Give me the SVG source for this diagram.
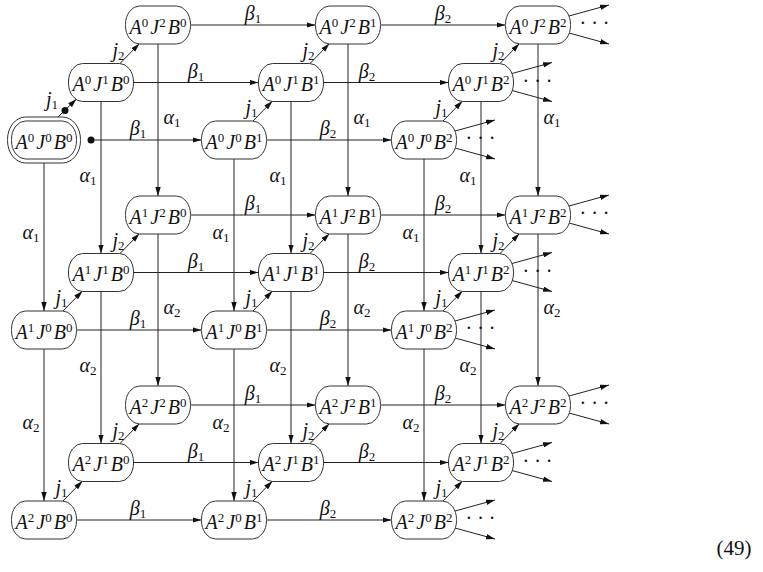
<svg xmlns="http://www.w3.org/2000/svg" width="763" height="572" viewBox="0 0 763 572">
<style>
.nd{fill:#fff;stroke:#333;stroke-width:1}
.e{stroke:#222;stroke-width:1;fill:none;marker-end:url(#ah)}
.n{font-family:"Liberation Serif",serif;font-style:italic;font-size:20px;fill:#111;text-anchor:middle}
.s{font-style:normal;font-size:13px}
.l{font-family:"Liberation Serif",serif;font-style:italic;font-size:20px;fill:#111;text-anchor:middle}
.ls{font-style:normal;font-size:13px}
.dots{font-family:"Liberation Serif",serif;font-size:20px;fill:#111;text-anchor:middle}
</style>
<defs>
<marker id="ah" viewBox="0 0 10 6" refX="10" refY="3" markerWidth="9" markerHeight="5.5" orient="auto" markerUnits="userSpaceOnUse"><path d="M0,0 L10,3 L0,6 z" fill="#111"/></marker>
</defs>
<rect width="763" height="572" fill="#fff"/>
<g id="connectors">
<!-- beta edges -->
<line class="e" x1="91" y1="140" x2="201.5" y2="140"/>
<line class="e" x1="266.5" y1="140" x2="391.5" y2="140"/>
<line class="e" x1="133.5" y1="82.5" x2="258.5" y2="82.5"/>
<line class="e" x1="323.5" y1="82.5" x2="448.5" y2="82.5"/>
<line class="e" x1="190.5" y1="25" x2="315.5" y2="25"/>
<line class="e" x1="380.5" y1="25" x2="505.5" y2="25"/>
<line class="e" x1="76.5" y1="330" x2="201.5" y2="330"/>
<line class="e" x1="266.5" y1="330" x2="391.5" y2="330"/>
<line class="e" x1="133.5" y1="272.5" x2="258.5" y2="272.5"/>
<line class="e" x1="323.5" y1="272.5" x2="448.5" y2="272.5"/>
<line class="e" x1="190.5" y1="215" x2="315.5" y2="215"/>
<line class="e" x1="380.5" y1="215" x2="505.5" y2="215"/>
<line class="e" x1="76.5" y1="520" x2="201.5" y2="520"/>
<line class="e" x1="266.5" y1="520" x2="391.5" y2="520"/>
<line class="e" x1="133.5" y1="462.5" x2="258.5" y2="462.5"/>
<line class="e" x1="323.5" y1="462.5" x2="448.5" y2="462.5"/>
<line class="e" x1="190.5" y1="405" x2="315.5" y2="405"/>
<line class="e" x1="380.5" y1="405" x2="505.5" y2="405"/>
<!-- alpha edges -->
<line class="e" x1="44" y1="163" x2="44" y2="311"/>
<line class="e" x1="44" y1="349" x2="44" y2="501"/>
<line class="e" x1="234" y1="159" x2="234" y2="311"/>
<line class="e" x1="234" y1="349" x2="234" y2="501"/>
<line class="e" x1="424" y1="159" x2="424" y2="311"/>
<line class="e" x1="424" y1="349" x2="424" y2="501"/>
<line class="e" x1="101" y1="101.5" x2="101" y2="253.5"/>
<line class="e" x1="101" y1="291.5" x2="101" y2="443.5"/>
<line class="e" x1="291" y1="101.5" x2="291" y2="253.5"/>
<line class="e" x1="291" y1="291.5" x2="291" y2="443.5"/>
<line class="e" x1="481" y1="101.5" x2="481" y2="253.5"/>
<line class="e" x1="481" y1="291.5" x2="481" y2="443.5"/>
<line class="e" x1="158" y1="44" x2="158" y2="196"/>
<line class="e" x1="158" y1="234" x2="158" y2="386"/>
<line class="e" x1="348" y1="44" x2="348" y2="196"/>
<line class="e" x1="348" y1="234" x2="348" y2="386"/>
<line class="e" x1="538" y1="44" x2="538" y2="196"/>
<line class="e" x1="538" y1="234" x2="538" y2="386"/>
<!-- j edges -->
<line class="e" x1="58" y1="117" x2="76.5" y2="99"/>
<line class="e" x1="252.5" y1="121.5" x2="272.5" y2="101"/>
<line class="e" x1="442.5" y1="121.5" x2="462.5" y2="101"/>
<line class="e" x1="62.5" y1="311.5" x2="82.5" y2="291"/>
<line class="e" x1="252.5" y1="311.5" x2="272.5" y2="291"/>
<line class="e" x1="442.5" y1="311.5" x2="462.5" y2="291"/>
<line class="e" x1="62.5" y1="501.5" x2="82.5" y2="481"/>
<line class="e" x1="252.5" y1="501.5" x2="272.5" y2="481"/>
<line class="e" x1="442.5" y1="501.5" x2="462.5" y2="481"/>
<line class="e" x1="119.5" y1="64" x2="139.5" y2="43.5"/>
<line class="e" x1="309.5" y1="64" x2="329.5" y2="43.5"/>
<line class="e" x1="499.5" y1="64" x2="519.5" y2="43.5"/>
<line class="e" x1="119.5" y1="254" x2="139.5" y2="233.5"/>
<line class="e" x1="309.5" y1="254" x2="329.5" y2="233.5"/>
<line class="e" x1="499.5" y1="254" x2="519.5" y2="233.5"/>
<line class="e" x1="119.5" y1="444" x2="139.5" y2="423.5"/>
<line class="e" x1="309.5" y1="444" x2="329.5" y2="423.5"/>
<line class="e" x1="499.5" y1="444" x2="519.5" y2="423.5"/>
<!-- outgoing stubs from B2 nodes -->
<line class="e" x1="455" y1="131" x2="495" y2="120"/><line class="e" x1="455" y1="148" x2="495" y2="159"/>
<line class="e" x1="512" y1="73.5" x2="552" y2="62.5"/><line class="e" x1="512" y1="90.5" x2="552" y2="101.5"/>
<line class="e" x1="569" y1="16" x2="609" y2="5"/><line class="e" x1="569" y1="33" x2="609" y2="44"/>
<line class="e" x1="455" y1="321" x2="495" y2="310"/><line class="e" x1="455" y1="338" x2="495" y2="349"/>
<line class="e" x1="512" y1="263.5" x2="552" y2="252.5"/><line class="e" x1="512" y1="280.5" x2="552" y2="291.5"/>
<line class="e" x1="569" y1="206" x2="609" y2="195"/><line class="e" x1="569" y1="223" x2="609" y2="234"/>
<line class="e" x1="455" y1="511" x2="495" y2="500"/><line class="e" x1="455" y1="528" x2="495" y2="539"/>
<line class="e" x1="512" y1="453.5" x2="552" y2="442.5"/><line class="e" x1="512" y1="470.5" x2="552" y2="481.5"/>
<line class="e" x1="569" y1="396" x2="609" y2="385"/><line class="e" x1="569" y1="413" x2="609" y2="424"/>
<!-- initial dots -->
<circle cx="91" cy="140" r="3.5" fill="#111"/>
<circle cx="65" cy="110.5" r="3.5" fill="#111"/>
<!-- beta labels -->
<text class="l" x="138" y="135">β<tspan class="ls" dy="3">1</tspan></text>
<text class="l" x="328" y="135">β<tspan class="ls" dy="3">2</tspan></text>
<text class="l" x="196" y="77.5">β<tspan class="ls" dy="3">1</tspan></text>
<text class="l" x="367" y="77.5">β<tspan class="ls" dy="3">2</tspan></text>
<text class="l" x="253" y="20">β<tspan class="ls" dy="3">1</tspan></text>
<text class="l" x="443" y="20">β<tspan class="ls" dy="3">2</tspan></text>
<text class="l" x="138" y="325">β<tspan class="ls" dy="3">1</tspan></text>
<text class="l" x="328" y="325">β<tspan class="ls" dy="3">2</tspan></text>
<text class="l" x="196" y="267.5">β<tspan class="ls" dy="3">1</tspan></text>
<text class="l" x="367" y="267.5">β<tspan class="ls" dy="3">2</tspan></text>
<text class="l" x="253" y="210">β<tspan class="ls" dy="3">1</tspan></text>
<text class="l" x="443" y="210">β<tspan class="ls" dy="3">2</tspan></text>
<text class="l" x="138" y="515">β<tspan class="ls" dy="3">1</tspan></text>
<text class="l" x="328" y="515">β<tspan class="ls" dy="3">2</tspan></text>
<text class="l" x="196" y="457.5">β<tspan class="ls" dy="3">1</tspan></text>
<text class="l" x="367" y="457.5">β<tspan class="ls" dy="3">2</tspan></text>
<text class="l" x="253" y="400">β<tspan class="ls" dy="3">1</tspan></text>
<text class="l" x="443" y="400">β<tspan class="ls" dy="3">2</tspan></text>
<!-- alpha labels -->
<text class="l" x="31" y="239">α<tspan class="ls" dy="3">1</tspan></text>
<text class="l" x="31" y="429">α<tspan class="ls" dy="3">2</tspan></text>
<text class="l" x="221" y="239">α<tspan class="ls" dy="3">1</tspan></text>
<text class="l" x="221" y="429">α<tspan class="ls" dy="3">2</tspan></text>
<text class="l" x="411" y="239">α<tspan class="ls" dy="3">1</tspan></text>
<text class="l" x="411" y="429">α<tspan class="ls" dy="3">2</tspan></text>
<text class="l" x="88" y="181.5">α<tspan class="ls" dy="3">1</tspan></text>
<text class="l" x="88" y="371.5">α<tspan class="ls" dy="3">2</tspan></text>
<text class="l" x="278" y="181.5">α<tspan class="ls" dy="3">1</tspan></text>
<text class="l" x="278" y="371.5">α<tspan class="ls" dy="3">2</tspan></text>
<text class="l" x="468" y="181.5">α<tspan class="ls" dy="3">1</tspan></text>
<text class="l" x="468" y="371.5">α<tspan class="ls" dy="3">2</tspan></text>
<text class="l" x="172" y="124">α<tspan class="ls" dy="3">1</tspan></text>
<text class="l" x="172" y="314">α<tspan class="ls" dy="3">2</tspan></text>
<text class="l" x="362" y="124">α<tspan class="ls" dy="3">1</tspan></text>
<text class="l" x="362" y="314">α<tspan class="ls" dy="3">2</tspan></text>
<text class="l" x="552" y="124">α<tspan class="ls" dy="3">1</tspan></text>
<text class="l" x="552" y="314">α<tspan class="ls" dy="3">2</tspan></text>
<!-- j labels -->
<text class="l" x="52" y="106">j<tspan class="ls" dy="3">1</tspan></text>
<text class="l" x="251.5" y="114.25">j<tspan class="ls" dy="3">1</tspan></text>
<text class="l" x="441.5" y="114.25">j<tspan class="ls" dy="3">1</tspan></text>
<text class="l" x="61.5" y="304.25">j<tspan class="ls" dy="3">1</tspan></text>
<text class="l" x="251.5" y="304.25">j<tspan class="ls" dy="3">1</tspan></text>
<text class="l" x="441.5" y="304.25">j<tspan class="ls" dy="3">1</tspan></text>
<text class="l" x="61.5" y="494.25">j<tspan class="ls" dy="3">1</tspan></text>
<text class="l" x="251.5" y="494.25">j<tspan class="ls" dy="3">1</tspan></text>
<text class="l" x="441.5" y="494.25">j<tspan class="ls" dy="3">1</tspan></text>
<text class="l" x="118.5" y="56.75">j<tspan class="ls" dy="3">2</tspan></text>
<text class="l" x="308.5" y="56.75">j<tspan class="ls" dy="3">2</tspan></text>
<text class="l" x="498.5" y="56.75">j<tspan class="ls" dy="3">2</tspan></text>
<text class="l" x="118.5" y="246.75">j<tspan class="ls" dy="3">2</tspan></text>
<text class="l" x="308.5" y="246.75">j<tspan class="ls" dy="3">2</tspan></text>
<text class="l" x="498.5" y="246.75">j<tspan class="ls" dy="3">2</tspan></text>
<text class="l" x="118.5" y="436.75">j<tspan class="ls" dy="3">2</tspan></text>
<text class="l" x="308.5" y="436.75">j<tspan class="ls" dy="3">2</tspan></text>
<text class="l" x="498.5" y="436.75">j<tspan class="ls" dy="3">2</tspan></text>
<!-- cdots -->
<text class="dots" x="480.5" y="145">· · ·</text>
<text class="dots" x="537.5" y="87.5">· · ·</text>
<text class="dots" x="594.5" y="30">· · ·</text>
<text class="dots" x="480.5" y="335">· · ·</text>
<text class="dots" x="537.5" y="277.5">· · ·</text>
<text class="dots" x="594.5" y="220">· · ·</text>
<text class="dots" x="480.5" y="525">· · ·</text>
<text class="dots" x="537.5" y="467.5">· · ·</text>
<text class="dots" x="594.5" y="410">· · ·</text>
</g>
<g id="A0J0B0"><rect class="nd" x="7.5" y="117" width="73" height="46" rx="18" ry="22.5"/><rect class="nd" x="11.5" y="121" width="65" height="38" rx="14" ry="18.5"/><text class="n" x="44" y="148.5">A<tspan class="s" dy="-7">0</tspan><tspan dx="2" dy="7">J</tspan><tspan class="s" dy="-7">0</tspan><tspan dx="2" dy="7">B</tspan><tspan class="s" dy="-7">0</tspan></text></g>
<g id="A0J0B1"><rect class="nd" x="201.5" y="121" width="65" height="38" rx="14" ry="18.5"/><text class="n" x="234" y="148.5">A<tspan class="s" dy="-7">0</tspan><tspan dx="2" dy="7">J</tspan><tspan class="s" dy="-7">0</tspan><tspan dx="2" dy="7">B</tspan><tspan class="s" dy="-7">1</tspan></text></g>
<g id="A0J0B2"><rect class="nd" x="391.5" y="121" width="65" height="38" rx="14" ry="18.5"/><text class="n" x="424" y="148.5">A<tspan class="s" dy="-7">0</tspan><tspan dx="2" dy="7">J</tspan><tspan class="s" dy="-7">0</tspan><tspan dx="2" dy="7">B</tspan><tspan class="s" dy="-7">2</tspan></text></g>
<g id="A0J1B0"><rect class="nd" x="68.5" y="63.5" width="65" height="38" rx="14" ry="18.5"/><text class="n" x="101" y="91">A<tspan class="s" dy="-7">0</tspan><tspan dx="2" dy="7">J</tspan><tspan class="s" dy="-7">1</tspan><tspan dx="2" dy="7">B</tspan><tspan class="s" dy="-7">0</tspan></text></g>
<g id="A0J1B1"><rect class="nd" x="258.5" y="63.5" width="65" height="38" rx="14" ry="18.5"/><text class="n" x="291" y="91">A<tspan class="s" dy="-7">0</tspan><tspan dx="2" dy="7">J</tspan><tspan class="s" dy="-7">1</tspan><tspan dx="2" dy="7">B</tspan><tspan class="s" dy="-7">1</tspan></text></g>
<g id="A0J1B2"><rect class="nd" x="448.5" y="63.5" width="65" height="38" rx="14" ry="18.5"/><text class="n" x="481" y="91">A<tspan class="s" dy="-7">0</tspan><tspan dx="2" dy="7">J</tspan><tspan class="s" dy="-7">1</tspan><tspan dx="2" dy="7">B</tspan><tspan class="s" dy="-7">2</tspan></text></g>
<g id="A0J2B0"><rect class="nd" x="125.5" y="6" width="65" height="38" rx="14" ry="18.5"/><text class="n" x="158" y="33.5">A<tspan class="s" dy="-7">0</tspan><tspan dx="2" dy="7">J</tspan><tspan class="s" dy="-7">2</tspan><tspan dx="2" dy="7">B</tspan><tspan class="s" dy="-7">0</tspan></text></g>
<g id="A0J2B1"><rect class="nd" x="315.5" y="6" width="65" height="38" rx="14" ry="18.5"/><text class="n" x="348" y="33.5">A<tspan class="s" dy="-7">0</tspan><tspan dx="2" dy="7">J</tspan><tspan class="s" dy="-7">2</tspan><tspan dx="2" dy="7">B</tspan><tspan class="s" dy="-7">1</tspan></text></g>
<g id="A0J2B2"><rect class="nd" x="505.5" y="6" width="65" height="38" rx="14" ry="18.5"/><text class="n" x="538" y="33.5">A<tspan class="s" dy="-7">0</tspan><tspan dx="2" dy="7">J</tspan><tspan class="s" dy="-7">2</tspan><tspan dx="2" dy="7">B</tspan><tspan class="s" dy="-7">2</tspan></text></g>
<g id="A1J0B0"><rect class="nd" x="11.5" y="311" width="65" height="38" rx="14" ry="18.5"/><text class="n" x="44" y="338.5">A<tspan class="s" dy="-7">1</tspan><tspan dx="2" dy="7">J</tspan><tspan class="s" dy="-7">0</tspan><tspan dx="2" dy="7">B</tspan><tspan class="s" dy="-7">0</tspan></text></g>
<g id="A1J0B1"><rect class="nd" x="201.5" y="311" width="65" height="38" rx="14" ry="18.5"/><text class="n" x="234" y="338.5">A<tspan class="s" dy="-7">1</tspan><tspan dx="2" dy="7">J</tspan><tspan class="s" dy="-7">0</tspan><tspan dx="2" dy="7">B</tspan><tspan class="s" dy="-7">1</tspan></text></g>
<g id="A1J0B2"><rect class="nd" x="391.5" y="311" width="65" height="38" rx="14" ry="18.5"/><text class="n" x="424" y="338.5">A<tspan class="s" dy="-7">1</tspan><tspan dx="2" dy="7">J</tspan><tspan class="s" dy="-7">0</tspan><tspan dx="2" dy="7">B</tspan><tspan class="s" dy="-7">2</tspan></text></g>
<g id="A1J1B0"><rect class="nd" x="68.5" y="253.5" width="65" height="38" rx="14" ry="18.5"/><text class="n" x="101" y="281">A<tspan class="s" dy="-7">1</tspan><tspan dx="2" dy="7">J</tspan><tspan class="s" dy="-7">1</tspan><tspan dx="2" dy="7">B</tspan><tspan class="s" dy="-7">0</tspan></text></g>
<g id="A1J1B1"><rect class="nd" x="258.5" y="253.5" width="65" height="38" rx="14" ry="18.5"/><text class="n" x="291" y="281">A<tspan class="s" dy="-7">1</tspan><tspan dx="2" dy="7">J</tspan><tspan class="s" dy="-7">1</tspan><tspan dx="2" dy="7">B</tspan><tspan class="s" dy="-7">1</tspan></text></g>
<g id="A1J1B2"><rect class="nd" x="448.5" y="253.5" width="65" height="38" rx="14" ry="18.5"/><text class="n" x="481" y="281">A<tspan class="s" dy="-7">1</tspan><tspan dx="2" dy="7">J</tspan><tspan class="s" dy="-7">1</tspan><tspan dx="2" dy="7">B</tspan><tspan class="s" dy="-7">2</tspan></text></g>
<g id="A1J2B0"><rect class="nd" x="125.5" y="196" width="65" height="38" rx="14" ry="18.5"/><text class="n" x="158" y="223.5">A<tspan class="s" dy="-7">1</tspan><tspan dx="2" dy="7">J</tspan><tspan class="s" dy="-7">2</tspan><tspan dx="2" dy="7">B</tspan><tspan class="s" dy="-7">0</tspan></text></g>
<g id="A1J2B1"><rect class="nd" x="315.5" y="196" width="65" height="38" rx="14" ry="18.5"/><text class="n" x="348" y="223.5">A<tspan class="s" dy="-7">1</tspan><tspan dx="2" dy="7">J</tspan><tspan class="s" dy="-7">2</tspan><tspan dx="2" dy="7">B</tspan><tspan class="s" dy="-7">1</tspan></text></g>
<g id="A1J2B2"><rect class="nd" x="505.5" y="196" width="65" height="38" rx="14" ry="18.5"/><text class="n" x="538" y="223.5">A<tspan class="s" dy="-7">1</tspan><tspan dx="2" dy="7">J</tspan><tspan class="s" dy="-7">2</tspan><tspan dx="2" dy="7">B</tspan><tspan class="s" dy="-7">2</tspan></text></g>
<g id="A2J0B0"><rect class="nd" x="11.5" y="501" width="65" height="38" rx="14" ry="18.5"/><text class="n" x="44" y="528.5">A<tspan class="s" dy="-7">2</tspan><tspan dx="2" dy="7">J</tspan><tspan class="s" dy="-7">0</tspan><tspan dx="2" dy="7">B</tspan><tspan class="s" dy="-7">0</tspan></text></g>
<g id="A2J0B1"><rect class="nd" x="201.5" y="501" width="65" height="38" rx="14" ry="18.5"/><text class="n" x="234" y="528.5">A<tspan class="s" dy="-7">2</tspan><tspan dx="2" dy="7">J</tspan><tspan class="s" dy="-7">0</tspan><tspan dx="2" dy="7">B</tspan><tspan class="s" dy="-7">1</tspan></text></g>
<g id="A2J0B2"><rect class="nd" x="391.5" y="501" width="65" height="38" rx="14" ry="18.5"/><text class="n" x="424" y="528.5">A<tspan class="s" dy="-7">2</tspan><tspan dx="2" dy="7">J</tspan><tspan class="s" dy="-7">0</tspan><tspan dx="2" dy="7">B</tspan><tspan class="s" dy="-7">2</tspan></text></g>
<g id="A2J1B0"><rect class="nd" x="68.5" y="443.5" width="65" height="38" rx="14" ry="18.5"/><text class="n" x="101" y="471">A<tspan class="s" dy="-7">2</tspan><tspan dx="2" dy="7">J</tspan><tspan class="s" dy="-7">1</tspan><tspan dx="2" dy="7">B</tspan><tspan class="s" dy="-7">0</tspan></text></g>
<g id="A2J1B1"><rect class="nd" x="258.5" y="443.5" width="65" height="38" rx="14" ry="18.5"/><text class="n" x="291" y="471">A<tspan class="s" dy="-7">2</tspan><tspan dx="2" dy="7">J</tspan><tspan class="s" dy="-7">1</tspan><tspan dx="2" dy="7">B</tspan><tspan class="s" dy="-7">1</tspan></text></g>
<g id="A2J1B2"><rect class="nd" x="448.5" y="443.5" width="65" height="38" rx="14" ry="18.5"/><text class="n" x="481" y="471">A<tspan class="s" dy="-7">2</tspan><tspan dx="2" dy="7">J</tspan><tspan class="s" dy="-7">1</tspan><tspan dx="2" dy="7">B</tspan><tspan class="s" dy="-7">2</tspan></text></g>
<g id="A2J2B0"><rect class="nd" x="125.5" y="386" width="65" height="38" rx="14" ry="18.5"/><text class="n" x="158" y="413.5">A<tspan class="s" dy="-7">2</tspan><tspan dx="2" dy="7">J</tspan><tspan class="s" dy="-7">2</tspan><tspan dx="2" dy="7">B</tspan><tspan class="s" dy="-7">0</tspan></text></g>
<g id="A2J2B1"><rect class="nd" x="315.5" y="386" width="65" height="38" rx="14" ry="18.5"/><text class="n" x="348" y="413.5">A<tspan class="s" dy="-7">2</tspan><tspan dx="2" dy="7">J</tspan><tspan class="s" dy="-7">2</tspan><tspan dx="2" dy="7">B</tspan><tspan class="s" dy="-7">1</tspan></text></g>
<g id="A2J2B2"><rect class="nd" x="505.5" y="386" width="65" height="38" rx="14" ry="18.5"/><text class="n" x="538" y="413.5">A<tspan class="s" dy="-7">2</tspan><tspan dx="2" dy="7">J</tspan><tspan class="s" dy="-7">2</tspan><tspan dx="2" dy="7">B</tspan><tspan class="s" dy="-7">2</tspan></text></g>
<text x="734" y="555" font-family="Liberation Serif, serif" font-size="21" fill="#111" text-anchor="middle">(49)</text>
</svg>
